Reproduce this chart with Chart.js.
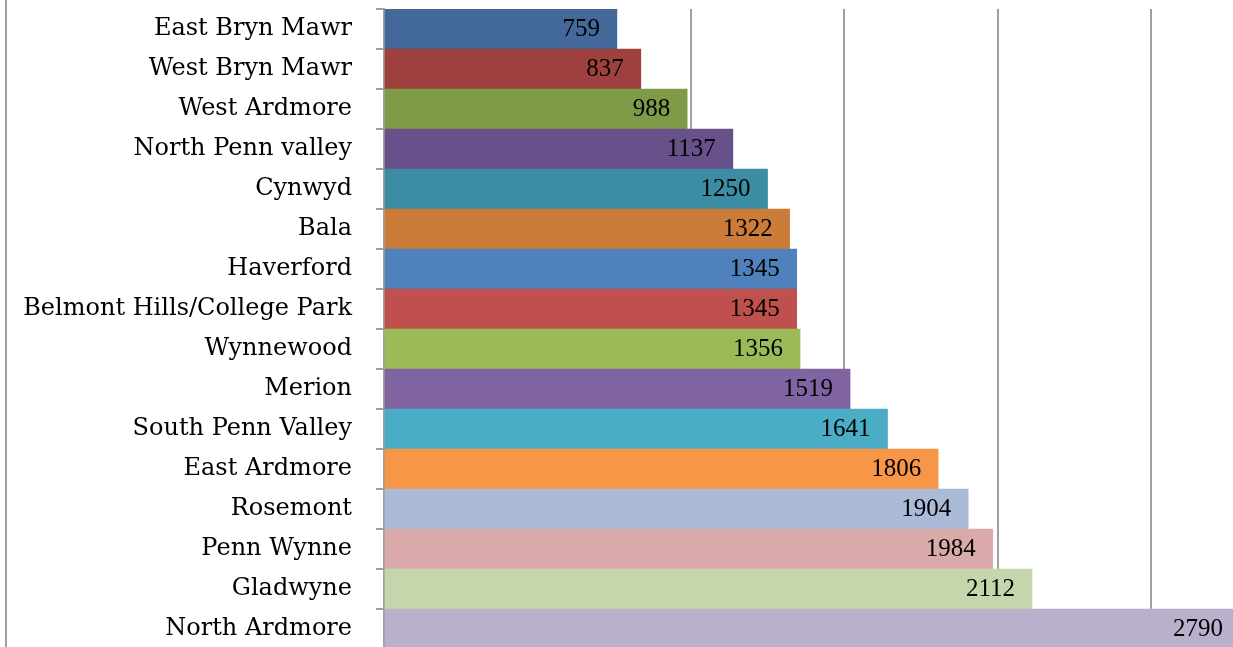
<!DOCTYPE html>
<html>
<head>
<meta charset="utf-8">
<script src="https://cdn.jsdelivr.net/npm/chart.js@4.4.1/dist/chart.umd.min.js"></script>
<style>
  html, body { margin: 0; padding: 0; background: #fff; overflow: hidden; }
  #wrap { position: relative; width: 1233px; height: 650px; }
</style>
</head>
<body>
<div id="wrap"><canvas id="areaChart"></canvas></div>
<script>
// neighbourhoods, top to bottom
const areas = ['East Bryn Mawr', 'West Bryn Mawr', 'West Ardmore', 'North Penn valley', 'Cynwyd', 'Bala',
    'Haverford', 'Belmont Hills/College Park', 'Wynnewood', 'Merion', 'South Penn Valley', 'East Ardmore',
    'Rosemont', 'Penn Wynne', 'Gladwyne', 'North Ardmore'];
const counts = [759, 837, 988, 1137, 1250, 1322, 1345, 1345, 1356, 1519, 1641, 1806, 1904, 1984, 2112, 2790];
const barColors = ['#43699b', '#9e413e', '#7f9b48', '#68518a', '#3c8ca3', '#cc7c39',
    '#4f81bd', '#c0504d', '#9bbb59', '#8064a2', '#4bacc6', '#f79646',
    '#aabad7', '#d9aaa9', '#c6d6ac', '#bab0cb'];
// vertical gridlines (axis labels are cut off in the picture)
const gridValues = [0, 500, 1000, 1500, 2000, 2500];

const labelFamily = '"DejaVu Serif", serif';
const labelSize = 24;
const valueFont = '25px "Liberation Serif", serif';

// value labels at the inside end of each bar
const valueLabels = {
    id: 'valueLabels',
    afterDatasetsDraw(chart) {
        const ctx = chart.ctx;
        const meta = chart.getDatasetMeta(0);
        ctx.save();
        ctx.font = valueFont;
        ctx.fillStyle = '#000';
        ctx.textAlign = 'right';
        ctx.textBaseline = 'middle';
        meta.data.forEach(function(bar, i) {
            ctx.fillText(String(counts[i]), bar.x - 17, bar.y);
        });
        ctx.restore();
    }
};

// thin frame line on the far left
const leftLine = {
    id: 'leftLine',
    beforeDraw(chart) {
        const ctx = chart.ctx;
        ctx.save();
        ctx.strokeStyle = '#a0a0a0';
        ctx.lineWidth = 2;
        ctx.beginPath();
        ctx.moveTo(6, 0);
        ctx.lineTo(6, chart.height);
        ctx.stroke();
        ctx.restore();
    }
};

const ctx = document.getElementById('areaChart').getContext('2d');
new Chart(ctx, {
    type: 'bar',
    data: {
        labels: areas,
        datasets: [{
            data: counts,
            backgroundColor: barColors,
            borderWidth: 0,
            barPercentage: 1,
            categoryPercentage: 1
        }]
    },
    options: {
        indexAxis: 'y',
        responsive: true,
        maintainAspectRatio: false,
        animation: false,
        layout: { padding: { top: 9, left: 0, right: 0, bottom: 1 } },
        plugins: {
            legend: { display: false },
            tooltip: { enabled: false }
        },
        scales: {
            x: {
                min: 0,
                max: 2767,
                afterBuildTicks: function(scale) {
                    scale.ticks = gridValues.map(v => ({ value: v }));
                },
                ticks: { display: false },
                grid: { color: '#a0a0a0', lineWidth: 2, drawTicks: false },
                border: { display: false }
            },
            y: {
                afterFit: function(scale) {
                    scale.width = 384;
                    scale.paddingTop = 0;
                    scale.paddingBottom = 0;
                },
                ticks: {
                    color: '#000',
                    font: { family: labelFamily, size: labelSize },
                    padding: 24
                },
                grid: { drawOnChartArea: false, color: '#a0a0a0', lineWidth: 2, tickLength: 8 },
                border: { color: '#a0a0a0', width: 2 }
            }
        }
    },
    plugins: [valueLabels, leftLine]
});
</script>
</body>
</html>
